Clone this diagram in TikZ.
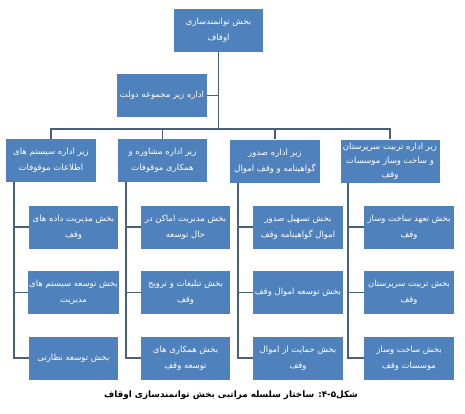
\documentclass[tikz,border=0pt]{standalone}
\usepackage{fontspec}
\TeXXeTstate=1
\newfontfamily\farsifont[Script=Arabic]{DejaVu Sans}
\newcommand{\fa}[1]{\beginR #1\endR}
\definecolor{boxblue}{HTML}{4F81BD}
\definecolor{linkgray}{HTML}{46607E}
\tikzset{
  unitbox/.style={fill=boxblue, text=white, minimum width=89pt, minimum height=43pt,
    inner sep=1pt, align=center, font=\farsifont\fontsize{8.5}{16}\selectfont},
  link/.style={draw=linkgray, line width=1.7pt},
}
\begin{document}
\begin{tikzpicture}[x=1pt, y=-1pt]
\useasboundingbox (0,0) rectangle (465,413);
% nodes
\node[unitbox] (top) at (218.5, 30) {\fa{بخش توانمندسازی}\\\fa{اوقاف}};
\node[unitbox, minimum width=90pt] (gov) at (162, 95.5) {\fa{اداره زیر مجموعه دولت}};
\node[unitbox, minimum width=90pt] (l1) at (51, 160.5) {\fa{زیر اداره سیستم های}\\\fa{اطلاعات موقوفات}};
\node[unitbox] (l2) at (162.5, 160.5) {\fa{زیر اداره مشاوره و}\\\fa{همکاری موقوفات}};
\node[unitbox, minimum width=90pt] (l3) at (275, 161) {\fa{زیر اداره صدور}\\\fa{گواهینامه و وقف اموال}};
\node[unitbox, minimum width=99pt, font=\farsifont\fontsize{8.5}{14}\selectfont] (l4) at (390, 161) {\fa{زیر اداره تربیت سرپرستان}\\\fa{و ساخت وساز موسسات}\\\fa{وقف}};
% sections
\node[unitbox] (c11) at (73.5, 227) {\fa{بخش مدیریت داده های}\\\fa{وقف}};
\node[unitbox] (c12) at (73.5, 292.5) {\fa{بخش توسعه سیستم های}\\\fa{مدیریت}};
\node[unitbox] (c13) at (73.5, 358) {\fa{بخش توسعه نظارتی}};
\node[unitbox] (c21) at (185.5, 227) {\fa{بخش مدیریت اماکن در}\\\fa{حال توسعه}};
\node[unitbox] (c22) at (185.5, 292.5) {\fa{بخش تبلیغات و ترویج}\\\fa{وقف}};
\node[unitbox] (c23) at (185.5, 358) {\fa{بخش همکاری های}\\\fa{توسعه وقف}};
\node[unitbox, minimum width=90pt] (c31) at (298, 227) {\fa{بخش تسهیل صدور}\\\fa{اموال گواهینامه وقف}};
\node[unitbox, minimum width=90pt] (c32) at (298, 292.5) {\fa{بخش توسعه اموال وقف}};
\node[unitbox, minimum width=90pt] (c33) at (298, 358) {\fa{بخش حمایت از اموال}\\\fa{وقف}};
\node[unitbox, minimum width=90pt] (c41) at (409, 227) {\fa{بخش تعهد ساخت وساز}\\\fa{وقف}};
\node[unitbox, minimum width=90pt] (c42) at (409, 292.5) {\fa{بخش تربیت سرپرستان}\\\fa{وقف}};
\node[unitbox, minimum width=90pt] (c43) at (409, 358) {\fa{بخش ساخت وساز}\\\fa{موسسات وقف}};
\node[font=\farsifont\bfseries\fontsize{8.8}{12}\selectfont] (cap) at (231, 395) {\fa{شکل\beginL ۴-۵\endL: ساختار سلسله مراتبی بخش توانمندسازی اوقاف}};
% lines
\coordinate (bus) at (218.5, 129);
\draw[link] (top) -- (bus);
\draw[link] (gov.east) -- (gov.east -| top.south);
\foreach \n in {l1, l2, l3, l4}
  \draw[link] (\n.north) |- (bus);
\foreach \n/\k in {l1/1, l2/2, l3/3, l4/4}
  \foreach \r in {1, 2, 3}
    \draw[link] ([xshift=8pt]\n.south west) |- (c\k\r.west);
\end{tikzpicture}
\end{document}
